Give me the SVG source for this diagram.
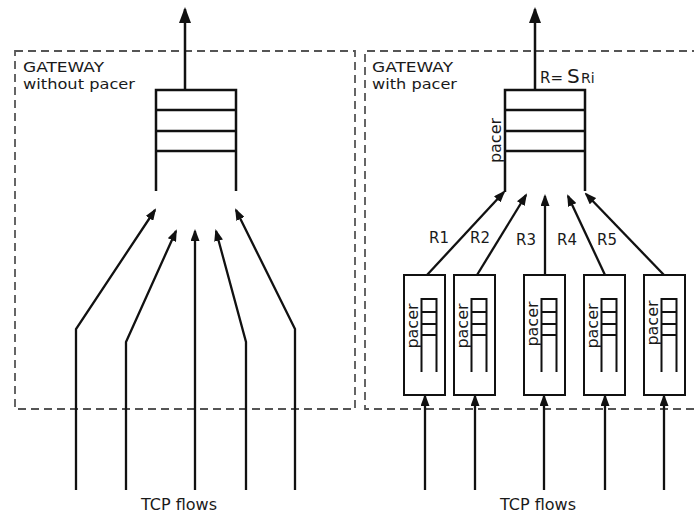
<svg xmlns="http://www.w3.org/2000/svg" width="694" height="516" viewBox="0 0 694 516">
<style>
  text { font-family: "DejaVu Sans", "Liberation Sans", sans-serif; fill: #1a1a1a; }
  .lbl { font-size: 14.5px; }
  .tcp { font-size: 16px; text-anchor: middle; }
  .rl { font-size: 15px; }
  .pc { font-size: 16px; text-anchor: middle; }
  .dash { fill: none; stroke: #555; stroke-width: 1.8; stroke-dasharray: 8 5; }
  .q { fill: none; stroke: #111; stroke-width: 2.5; }
  .mq { fill: none; stroke: #111; stroke-width: 2; }
  .box { fill: #fff; stroke: #111; stroke-width: 2; }
  .arr { fill: none; stroke: #111; stroke-width: 2.3; marker-end: url(#ah); }
  .out { fill: none; stroke: #111; stroke-width: 2.5; marker-end: url(#ahb); }
</style>
<defs>
  <marker id="ah" markerUnits="userSpaceOnUse" viewBox="0 0 12 9" markerWidth="12" markerHeight="9" refX="10" refY="4.5" orient="auto">
    <path d="M0,0 L12,4.5 L0,9 z" fill="#111"/>
  </marker>
  <marker id="ahb" markerUnits="userSpaceOnUse" viewBox="0 0 16 12" markerWidth="16" markerHeight="12" refX="14" refY="6" orient="auto">
    <path d="M0,0 L16,6 L0,12 z" fill="#111"/>
  </marker>
</defs>

<!-- Gateway without pacer -->
<g id="gateway-left">
  <rect class="dash" x="15" y="51" width="340" height="358"/>
  <text class="lbl" x="23" y="72" textLength="81" lengthAdjust="spacingAndGlyphs">GATEWAY</text>
  <text class="lbl" x="23" y="89" textLength="112" lengthAdjust="spacingAndGlyphs">without pacer</text>
</g>
<g id="queue-left">
  <path class="q" d="M156,191 V90 H236 V191 M156,110 H236 M156,131 H236 M156,151 H236"/>
</g>

<!-- Gateway with pacer -->
<g id="gateway-right">
  <path class="dash" d="M700,51 H365 V409 H700"/>
  <text class="lbl" x="372" y="72" textLength="81" lengthAdjust="spacingAndGlyphs">GATEWAY</text>
  <text class="lbl" x="372" y="89" textLength="85" lengthAdjust="spacingAndGlyphs">with pacer</text>
</g>
<g id="queue-right">
  <path class="q" d="M505,192 V90 H585 V191 M505,110 H585 M505,131 H585 M505,151 H585"/>
  <text class="pc" transform="translate(501,140.5) rotate(-90)">pacer</text>
  <text class="rl" x="540" y="83">R=</text>
  <text x="567" y="83" style="font-size:20px">S</text>
  <text x="581" y="83" style="font-size:14px">Ri</text>
</g>

<!-- Pacer boxes -->
<g id="pacer1" transform="translate(404,275)">
  <rect class="box" x="0" y="0" width="41" height="120"/>
  <path class="mq" d="M17.5,97 V24 H32.5 V97 M17.5,37 H32.5 M17.5,49 H32.5 M17.5,60 H32.5"/>
  <text class="pc" transform="translate(14,51) rotate(-90)">pacer</text>
</g>
<g id="pacer2" transform="translate(454,275)">
  <rect class="box" x="0" y="0" width="41" height="120"/>
  <path class="mq" d="M17.5,97 V24 H32.5 V97 M17.5,37 H32.5 M17.5,49 H32.5 M17.5,60 H32.5"/>
  <text class="pc" transform="translate(14,51) rotate(-90)">pacer</text>
</g>
<g id="pacer3" transform="translate(524,275)">
  <rect class="box" x="0" y="0" width="41" height="120"/>
  <path class="mq" d="M17.5,97 V24 H32.5 V97 M17.5,37 H32.5 M17.5,49 H32.5 M17.5,60 H32.5"/>
  <text class="pc" transform="translate(14,49) rotate(-90)">pacer</text>
</g>
<g id="pacer4" transform="translate(584,275)">
  <rect class="box" x="0" y="0" width="41" height="120"/>
  <path class="mq" d="M17.5,97 V24 H32.5 V97 M17.5,37 H32.5 M17.5,49 H32.5 M17.5,60 H32.5"/>
  <text class="pc" transform="translate(14,51) rotate(-90)">pacer</text>
</g>
<g id="pacer5" transform="translate(644,275)">
  <rect class="box" x="0" y="0" width="41" height="120"/>
  <path class="mq" d="M17.5,97 V24 H32.5 V97 M17.5,37 H32.5 M17.5,49 H32.5 M17.5,60 H32.5"/>
  <text class="pc" transform="translate(14,48) rotate(-90)">pacer</text>
</g>

<!-- Connectors -->
<g id="connectors">
  <path class="out" d="M185,90 V9"/>
  <path class="out" d="M535,90 V9"/>

  <path class="arr" d="M76,490 V329 L155,210"/>
  <path class="arr" d="M126,490 V342 L176,231"/>
  <path class="arr" d="M195,490 V231"/>
  <path class="arr" d="M246,490 V342 L216,231"/>
  <path class="arr" d="M295,490 V329 L236,210"/>

  <path class="arr" d="M427,275 L504,192"/>
  <path class="arr" d="M477,275 L526,195"/>
  <path class="arr" d="M545,275 V196"/>
  <path class="arr" d="M605,275 L568,196"/>
  <path class="arr" d="M664,275 L586,194"/>

  <path class="arr" d="M425,490 V396"/>
  <path class="arr" d="M475,490 V396"/>
  <path class="arr" d="M544,490 V396"/>
  <path class="arr" d="M605,490 V396"/>
  <path class="arr" d="M664,490 V396"/>
</g>

<g id="labels">
  <text class="rl" x="429" y="243">R1</text>
  <text class="rl" x="470" y="243">R2</text>
  <text class="rl" x="516" y="245">R3</text>
  <text class="rl" x="557" y="245">R4</text>
  <text class="rl" x="597" y="245">R5</text>
  <text class="tcp" x="179" y="510">TCP flows</text>
  <text class="tcp" x="538" y="510">TCP flows</text>
</g>
</svg>
